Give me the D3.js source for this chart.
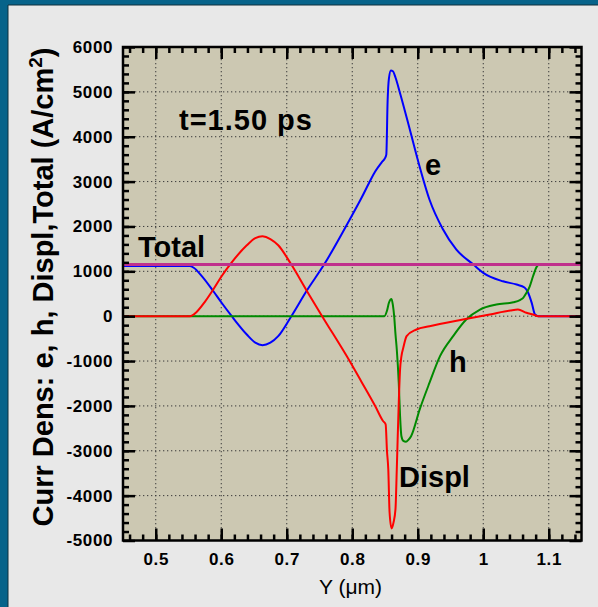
<!DOCTYPE html>
<html>
<head>
<meta charset="utf-8">
<script src="https://cdn.jsdelivr.net/npm/d3@7"></script>
<style>
  html, body { margin: 0; padding: 0; background: #e8e8e8; }
  svg { display: block; }
</style>
</head>
<body>
<svg id="chart" width="598" height="607"></svg>
<script>
// ---------------- data ----------------
const xTickValues = [0.5, 0.6, 0.7, 0.8, 0.9, 1.0, 1.1];
const xTickLabels = ["0.5", "0.6", "0.7", "0.8", "0.9", "1", "1.1"];
const yTickValues = [-5000, -4000, -3000, -2000, -1000, 0, 1000, 2000, 3000, 4000, 5000, 6000];
const yTickLabels = ["-5000", "-4000", "-3000", "-2000", "-1000", "0", "1000", "2000", "3000", "4000", "5000", "6000"];

const totalData = [[0.45, 1150], [1.15, 1150]];

const eData = [
  [0.45, 1120], [0.552, 1120], [0.558, 1080], [0.570, 900], [0.588, 556], [0.600, 310],
  [0.616, 0], [0.639, -408], [0.652, -590], [0.663, -646], [0.675, -590], [0.687, -445],
  [0.707, 0], [0.730, 556], [0.757, 1150], [0.796, 2150], [0.814, 2634], [0.826, 2980],
  [0.835, 3225], [0.845, 3430], [0.850, 3523], [0.852, 3600], [0.854, 4800], [0.856, 5300],
  [0.859, 5475], [0.862, 5460], [0.866, 5320], [0.873, 4970], [0.888, 4153], [0.900, 3486],
  [0.918, 2596], [0.938, 1950], [0.959, 1483], [0.985, 1150], [1.000, 965], [1.030, 778],
  [1.051, 705], [1.063, 640], [1.068, 540], [1.074, 297], [1.079, 37], [1.084, 0], [1.15, 0]
];

const displData = [
  [0.45, 0], [0.552, 0], [0.562, 90], [0.575, 320], [0.588, 600], [0.600, 880],
  [0.616, 1200], [0.639, 1580], [0.652, 1740], [0.663, 1779], [0.675, 1720], [0.687, 1580],
  [0.707, 1150], [0.730, 580], [0.754, 0], [0.796, -1000], [0.814, -1460], [0.835, -2003],
  [0.847, -2337], [0.851, -2410], [0.853, -3000], [0.855, -3410], [0.857, -4376], [0.860, -4731],
  [0.863, -4600], [0.866, -4302], [0.868, -3410], [0.871, -1928], [0.873, -1187], [0.875, -900],
  [0.878, -700], [0.883, -445], [0.898, -297], [0.918, -223], [0.969, -75], [1.010, 37],
  [1.041, 126], [1.053, 148], [1.066, 75], [1.076, 37], [1.084, 0], [1.15, 0]
];

const hData = [
  [0.45, 0], [0.849, 0], [0.853, 120], [0.856, 300], [0.860, 385], [0.862, 250], [0.864, 0],
  [0.866, -400], [0.868, -742], [0.871, -1483], [0.873, -2225], [0.875, -2670], [0.878, -2780],
  [0.882, -2800], [0.886, -2750], [0.890, -2670], [0.903, -2077], [0.918, -1483], [0.934, -890],
  [0.954, -445], [0.974, -75], [0.995, 148], [1.020, 260], [1.046, 311], [1.056, 360],
  [1.061, 408], [1.066, 520], [1.071, 667], [1.076, 890], [1.082, 1112], [1.086, 1150], [1.15, 1150]
];

// ---------------- layout ----------------
const svg = d3.select("#chart");
const W = 598, H = 607;
const plot = { left: 123, top: 47, right: 581.5, bottom: 540.5 };

// frame / border
svg.append("rect").attr("x", 0).attr("y", 0).attr("width", W).attr("height", H).attr("fill", "#e8e8e8");
svg.append("rect").attr("x", 0).attr("y", 0).attr("width", W).attr("height", 5).attr("fill", "#07638a");
svg.append("rect").attr("x", 0).attr("y", 0).attr("width", 8).attr("height", H).attr("fill", "#07638a");
svg.append("line").attr("x1", 8).attr("x2", W).attr("y1", 5).attr("y2", 5).attr("stroke", "#10303c").attr("stroke-width", 1);
svg.append("line").attr("x1", 8).attr("x2", 8).attr("y1", 5).attr("y2", H).attr("stroke", "#10303c").attr("stroke-width", 1);

const x = d3.scaleLinear().domain([0.45, 1.15]).range([plot.left, plot.right]);
const y = d3.scaleLinear().domain([-5000, 6000]).range([plot.bottom, plot.top]);

// plot background
svg.append("rect")
  .attr("x", plot.left).attr("y", plot.top)
  .attr("width", plot.right - plot.left).attr("height", plot.bottom - plot.top)
  .attr("fill", "#ccc8b2");

// grid
const grid = svg.append("g");
grid.selectAll(".gx").data(xTickValues).enter().append("line")
  .attr("x1", d => x(d)).attr("x2", d => x(d))
  .attr("y1", plot.top).attr("y2", plot.bottom)
  .attr("stroke", "#3a3a3a").attr("stroke-width", 1).attr("stroke-dasharray", "1.3,2.7");
grid.selectAll(".gy").data(yTickValues.filter(v => v > -5000 && v < 6000)).enter().append("line")
  .attr("x1", plot.left).attr("x2", plot.right)
  .attr("y1", d => y(d)).attr("y2", d => y(d))
  .attr("stroke", "#3a3a3a").attr("stroke-width", 1).attr("stroke-dasharray", "1.3,2.7");

// curves
const line = d3.line().x(d => x(d[0])).y(d => y(d[1])).curve(d3.curveMonotoneX);
const curves = svg.append("g").attr("fill", "none").attr("stroke-linejoin", "round");
curves.append("path").datum(eData).attr("d", line).attr("stroke", "#0000ff").attr("stroke-width", 2);
curves.append("path").datum(hData).attr("d", line).attr("stroke", "#008a00").attr("stroke-width", 2);
curves.append("path").datum(displData).attr("d", line).attr("stroke", "#ff0000").attr("stroke-width", 2);
curves.append("path").datum(totalData).attr("d", line).attr("stroke", "#c0308c").attr("stroke-width", 3);

// axes (ticks inward)
const xMinor = d3.range(0.46, 1.1401, 0.02);
const yMinor = d3.range(-4800, 6000, 200);

function addAxis(axisGen, transform) {
  const g = svg.append("g").attr("transform", transform).call(axisGen);
  g.select(".domain").remove();
  g.selectAll("line").attr("stroke", "#000").attr("stroke-width", 2.5);
  return g;
}
// bottom minor + major
addAxis(d3.axisBottom(x).tickValues(xMinor).tickSize(-6).tickFormat(""), `translate(0,${plot.bottom})`);
addAxis(d3.axisBottom(x).tickValues(xTickValues).tickSize(-12)
  .tickFormat((d, i) => xTickLabels[i]).tickPadding(12), `translate(0,${plot.bottom})`);
// top
addAxis(d3.axisTop(x).tickValues(xMinor).tickSize(-6).tickFormat(""), `translate(0,${plot.top})`);
addAxis(d3.axisTop(x).tickValues(xTickValues).tickSize(-12).tickFormat(""), `translate(0,${plot.top})`);
// left
addAxis(d3.axisLeft(y).tickValues(yMinor).tickSize(-6).tickFormat(""), `translate(${plot.left},0)`);
addAxis(d3.axisLeft(y).tickValues(yTickValues).tickSize(-12)
  .tickFormat((d, i) => yTickLabels[i]).tickPadding(10), `translate(${plot.left},0)`);
// right
addAxis(d3.axisRight(y).tickValues(yMinor).tickSize(-6).tickFormat(""), `translate(${plot.right},0)`);
addAxis(d3.axisRight(y).tickValues(yTickValues).tickSize(-12).tickFormat(""), `translate(${plot.right},0)`);

svg.selectAll(".tick text")
  .attr("font-family", "'Liberation Sans', Arial, sans-serif")
  .attr("font-weight", "bold").attr("font-size", 17).attr("fill", "#000")
  .attr("letter-spacing", "0.6px");

// frame
svg.append("rect")
  .attr("x", plot.left).attr("y", plot.top)
  .attr("width", plot.right - plot.left).attr("height", plot.bottom - plot.top)
  .attr("fill", "none").attr("stroke", "#000").attr("stroke-width", 2.5);

// annotations
const font = "'Liberation Sans', Arial, sans-serif";
function label(txt, px, py, size, weight) {
  return svg.append("text").attr("x", px).attr("y", py)
    .attr("font-family", font).attr("font-size", size).attr("font-weight", weight || "bold")
    .attr("fill", "#000").text(txt);
}
label("t=1.50 ps", 179, 130, 29).attr("letter-spacing", "1px");
label("e", 425, 175, 29);
label("Total", 138, 257, 29);
label("h", 449, 372, 29);
label("Displ", 399, 487, 29);

// y axis title
const yt = svg.append("text")
  .attr("transform", "translate(53,287) rotate(-90)")
  .attr("text-anchor", "middle")
  .attr("font-family", font).attr("font-size", 29).attr("font-weight", "bold").attr("fill", "#000");
yt.append("tspan").text("Curr Dens: e, h, Displ,Total (A/cm");
yt.append("tspan").attr("dy", -11).attr("font-size", 19).text("2");
yt.append("tspan").attr("dy", 11).text(")");

// x axis title
svg.append("text").attr("x", 319).attr("y", 594)
  .attr("font-family", font).attr("font-size", 21).attr("fill", "#000")
  .text("Y (\u03bcm)");
</script>
</body>
</html>
